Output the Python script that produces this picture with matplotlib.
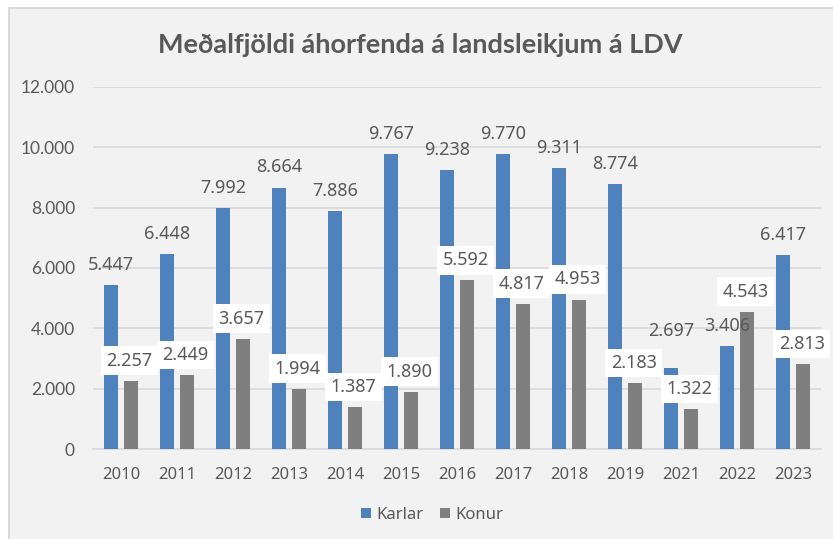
import matplotlib
matplotlib.use("Agg")
import matplotlib.pyplot as plt
from matplotlib.patches import Rectangle, Patch
import numpy as np

years = ["2010", "2011", "2012", "2013", "2014", "2015", "2016", "2017", "2018", "2019", "2021", "2022", "2023"]
karlar = [5447, 6448, 7992, 8664, 7886, 9767, 9238, 9770, 9311, 8774, 2697, 3406, 6417]
konur = [2257, 2449, 3657, 1994, 1387, 1890, 5592, 4817, 4953, 2183, 1322, 4543, 2813]
yticks = [0, 2000, 4000, 6000, 8000, 10000, 12000]

BLUE = "#4F81BD"
GRAY = "#7F7F7F"
TXT = "#595959"
BG = "#F2F2F2"
# extra upward nudge (points) for labels that were moved by hand in the original
karlar_label_nudge = {"2021": 12}

def fmt(v):
    return f"{v:,}".replace(",", ".")

fig = plt.figure(figsize=(8.33, 5.39), dpi=100, facecolor="white")
W, H = 833, 539
fig.patches.append(Rectangle((9 / W, -0.01), 1.0, 1 - 8 / H + 0.01, transform=fig.transFigure,
                             facecolor=BG, edgecolor="#D9D9D9", linewidth=1.5, zorder=-10))

ax = fig.add_axes([93 / W, 1 - 449 / H, (821 - 93) / W, (449 - 87) / H])
ax.set_facecolor("none")
x = np.arange(len(years))
w = 0.26
off = 0.179
ax.bar(x - off, karlar, width=w, color=BLUE, zorder=3, label="Karlar")
ax.bar(x + off, konur, width=w, color=GRAY, zorder=3, label="Konur")

ax.set_xlim(-0.5, len(years) - 0.5)
ax.set_ylim(0, 12000)
ax.set_yticks(yticks)
ax.set_yticklabels([fmt(v) for v in yticks], fontfamily="Lato", fontsize=12.5, color=TXT)
ax.set_xticks(x)
ax.set_xticklabels(years, fontfamily="Noto Sans", fontsize=12, color=TXT)
ax.tick_params(axis="both", length=0)
ax.tick_params(axis="y", pad=13)
ax.tick_params(axis="x", pad=13)
ax.grid(axis="y", color="#D9D9D9", linewidth=1.2, zorder=0)
ax.set_axisbelow(True)
for s in ["top", "right", "left"]:
    ax.spines[s].set_visible(False)
ax.spines["bottom"].set_color("#D9D9D9")
ax.spines["bottom"].set_linewidth(1.2)

for xi, yr, v in zip(x, years, karlar):
    ax.annotate(fmt(v), (xi - off, v), xytext=(0, 14.5 + karlar_label_nudge.get(yr, 0)),
                textcoords="offset points", ha="center", va="center", fontsize=13,
                fontfamily="Noto Sans", color=TXT, zorder=5)
for xi, v in zip(x, konur):
    ax.annotate(fmt(v), (xi + off, v), xytext=(-1, 14.5), textcoords="offset points",
                ha="center", va="center", fontsize=13, fontfamily="Noto Sans", color=TXT, zorder=6,
                bbox=dict(boxstyle="square,pad=0.3", facecolor="white", edgecolor="none"))

fig.text(0.505, 1 - 45 / H, "Meðalfjöldi áhorfenda á landsleikjum á LDV", ha="center", va="center",
         fontfamily="Lato", fontweight="bold", fontsize=19.5, color=TXT)

handles = [Patch(facecolor=BLUE), Patch(facecolor=GRAY)]
leg = fig.legend(handles, ["Karlar", "Konur"], loc="center", bbox_to_anchor=(432 / W, 1 - 515 / H),
                 ncol=2, frameon=False, prop={"family": "Noto Sans", "size": 12},
                 handlelength=0.6, handleheight=0.6, handletextpad=0.3, columnspacing=1.0)
for t in leg.get_texts():
    t.set_color(TXT)

fig.savefig("out.png", dpi=100, facecolor="white")
